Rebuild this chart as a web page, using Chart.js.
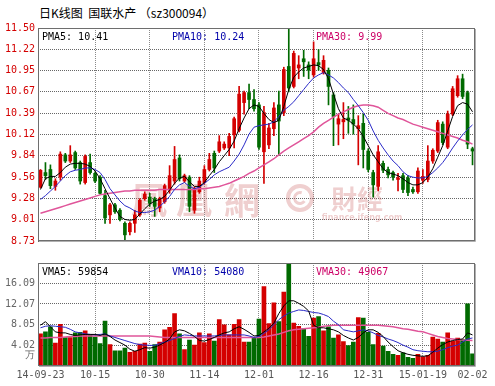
<!DOCTYPE html>
<html>
<head>
<meta charset="utf-8">
<script src="https://cdn.jsdelivr.net/npm/chart.js@4.4.0/dist/chart.umd.min.js"></script>
<style>
  body { margin: 0; background: #fff; width: 495px; height: 386px; position: relative; overflow: hidden; }
  #title { position: absolute; left: 39px; top: 4px; font: 12px "Noto Sans CJK SC", sans-serif; color: #000; white-space: pre; }
  #priceChart { position: absolute; left: 0; top: 0; }
  #volChart { position: absolute; left: 0; top: 250px; }
</style>
</head>
<body>
<div id="title">日K线图  国联水产 （sz300094）</div>
<canvas id="priceChart" width="495" height="250"></canvas>
<canvas id="volChart" width="495" height="136"></canvas>
<script>
// Trading days
const dates = [
    '2014-09-23', '2014-09-24', '2014-09-25', '2014-09-26', '2014-09-29', '2014-09-30', '2014-10-08', '2014-10-09', '2014-10-10', '2014-10-13', '2014-10-14',
    '2014-10-15', '2014-10-16', '2014-10-17', '2014-10-20', '2014-10-21', '2014-10-22', '2014-10-23', '2014-10-24', '2014-10-27', '2014-10-28', '2014-10-29',
    '2014-10-30', '2014-10-31', '2014-11-03', '2014-11-04', '2014-11-05', '2014-11-06', '2014-11-07', '2014-11-10', '2014-11-11', '2014-11-12', '2014-11-13',
    '2014-11-14', '2014-11-17', '2014-11-18', '2014-11-19', '2014-11-20', '2014-11-21', '2014-11-24', '2014-11-25', '2014-11-26', '2014-11-27', '2014-11-28',
    '2014-12-01', '2014-12-02', '2014-12-03', '2014-12-04', '2014-12-05', '2014-12-08', '2014-12-09', '2014-12-10', '2014-12-11', '2014-12-12', '2014-12-15',
    '2014-12-16', '2014-12-17', '2014-12-18', '2014-12-19', '2014-12-22', '2014-12-23', '2014-12-24', '2014-12-25', '2014-12-26', '2014-12-29', '2014-12-30',
    '2014-12-31', '2015-01-05', '2015-01-06', '2015-01-07', '2015-01-08', '2015-01-09', '2015-01-12', '2015-01-13', '2015-01-14', '2015-01-15', '2015-01-16',
    '2015-01-19', '2015-01-20', '2015-01-21', '2015-01-22', '2015-01-23', '2015-01-26', '2015-01-27', '2015-01-28', '2015-01-29', '2015-01-30', '2015-02-02'
];

// Daily prices
const openP = [
    9.43, 9.62, 9.66, 9.44, 9.56, 9.85, 9.77, 9.88, 9.75, 9.49, 9.75,
    9.61, 9.56, 9.32, 9.07, 9.20, 9.13, 8.96, 8.85, 8.96, 9.07, 9.28,
    9.30, 9.28, 9.16, 9.24, 9.39, 9.51, 9.81, 9.51, 9.56, 9.13, 9.37,
    9.49, 9.66, 9.87, 9.90, 9.94, 9.94, 10.11, 10.17, 10.53, 10.66, 10.57,
    10.50, 9.89, 9.98, 10.19, 10.50, 10.40, 11.00, 10.74, 10.98, 11.10, 11.02,
    10.89, 11.05, 10.92, 10.95, 10.63, 10.25, 10.28, 10.33, 10.31, 10.19, 10.26,
    9.90, 9.62, 9.44, 9.74, 9.66, 9.62, 9.53, 9.58, 9.55, 9.40, 9.37,
    9.52, 9.53, 9.77, 9.90, 10.25, 9.95, 10.38, 10.62, 10.84, 10.66, 9.93
];
const highP = [
    9.66, 9.75, 9.72, 9.54, 9.89, 9.87, 9.97, 9.90, 9.77, 9.85, 9.86,
    9.63, 9.58, 9.39, 9.22, 9.22, 9.15, 8.98, 8.98, 9.13, 9.28, 9.37,
    9.35, 9.30, 9.30, 9.47, 9.71, 9.96, 9.85, 9.60, 9.58, 9.43, 9.56,
    9.71, 9.87, 9.90, 10.10, 10.02, 10.13, 10.34, 10.74, 10.68, 10.77, 10.70,
    10.53, 10.48, 10.26, 10.53, 10.68, 10.99, 11.50, 11.20, 11.14, 11.21, 11.06,
    11.32, 11.22, 11.14, 10.98, 10.66, 10.38, 10.53, 10.48, 10.50, 10.36, 10.38,
    9.93, 9.65, 9.97, 9.77, 9.69, 9.64, 9.61, 9.61, 9.58, 9.43, 9.68,
    9.66, 9.97, 9.93, 10.30, 10.28, 10.42, 10.74, 10.88, 10.90, 10.68, 9.95
];
const lowP = [
    9.42, 9.53, 9.41, 9.39, 9.52, 9.75, 9.75, 9.66, 9.47, 9.47, 9.60,
    9.49, 9.34, 8.96, 8.96, 9.09, 8.99, 8.73, 8.81, 8.84, 9.05, 9.26,
    9.18, 9.05, 9.11, 9.22, 9.35, 9.47, 9.51, 9.49, 9.11, 9.09, 9.35,
    9.47, 9.64, 9.62, 9.88, 9.92, 9.84, 9.94, 10.15, 10.38, 10.45, 10.42,
    9.92, 9.48, 9.93, 10.10, 9.84, 10.36, 10.67, 10.72, 10.84, 10.87, 10.84,
    10.86, 10.95, 10.90, 10.50, 9.97, 9.98, 10.06, 10.13, 10.12, 9.72, 9.68,
    9.63, 9.30, 9.38, 9.62, 9.55, 9.52, 9.38, 9.36, 9.32, 9.35, 9.35,
    9.48, 9.50, 9.74, 9.88, 9.98, 9.93, 10.36, 10.60, 10.58, 9.93, 9.72
];
const closeP = [
    9.65, 9.58, 9.45, 9.51, 9.86, 9.77, 9.85, 9.68, 9.51, 9.83, 9.62,
    9.51, 9.35, 9.03, 9.20, 9.11, 9.01, 8.81, 8.96, 9.07, 9.26, 9.34,
    9.22, 9.18, 9.28, 9.45, 9.58, 9.79, 9.54, 9.58, 9.18, 9.41, 9.51,
    9.66, 9.79, 9.68, 10.02, 9.99, 10.09, 10.32, 10.64, 10.66, 10.57, 10.45,
    9.95, 10.40, 10.20, 10.46, 10.29, 10.96, 10.72, 11.17, 11.02, 11.06, 10.95,
    11.10, 11.02, 11.08, 10.74, 10.35, 10.32, 10.31, 10.30, 10.25, 10.23, 9.92,
    9.66, 9.46, 9.89, 9.65, 9.59, 9.56, 9.55, 9.40, 9.36, 9.37, 9.64,
    9.57, 9.77, 9.91, 10.27, 10.01, 10.38, 10.71, 10.84, 10.61, 9.99, 9.90
];

// Volume (万手)
const volume = [
    6.2, 6.6, 7.6, 4.4, 8.1, 5.5, 5.5, 6.4, 6.5, 6.8, 6.0,
    5.6, 4.3, 8.7, 4.1, 2.9, 2.9, 3.4, 2.6, 2.8, 4.2, 4.4,
    2.8, 4.1, 4.6, 7.0, 7.5, 10.2, 6.2, 3.1, 5.0, 4.0, 6.4,
    4.5, 6.2, 4.8, 9.0, 8.0, 6.0, 8.1, 9.0, 4.6, 4.6, 5.5,
    9.1, 15.5, 8.2, 12.3, 8.6, 14.4, 20.2, 8.3, 7.7, 7.2, 5.7,
    9.3, 9.6, 6.8, 7.6, 5.4, 6.0, 4.7, 3.9, 4.6, 9.4, 9.3,
    6.5, 4.1, 6.3, 3.8, 2.8, 2.2, 2.0, 2.5, 1.6, 1.4, 2.2,
    1.7, 2.0, 5.6, 5.2, 4.6, 6.4, 4.8, 5.4, 5.1, 12.1, 2.3
];

// Price moving averages
const pma5 = [
    9.40, 9.54, 9.57, 9.57, 9.62, 9.69, 9.73, 9.74, 9.74, 9.73, 9.70,
    9.64, 9.54, 9.41, 9.28, 9.16, 9.05, 9.01, 9.00, 9.01, 9.08, 9.15,
    9.21, 9.25, 9.27, 9.31, 9.39, 9.48, 9.55, 9.57, 9.50, 9.44, 9.44,
    9.49, 9.58, 9.66, 9.76, 9.84, 9.92, 10.03, 10.19, 10.33, 10.45, 10.50,
    10.48, 10.39, 10.31, 10.27, 10.30, 10.48, 10.70, 10.86, 10.93, 10.98, 11.00,
    11.02, 11.01, 10.96, 10.84, 10.64, 10.45, 10.33, 10.30, 10.25, 10.19, 10.09,
    9.97, 9.85, 9.76, 9.67, 9.62, 9.60, 9.58, 9.54, 9.49, 9.46, 9.46,
    9.49, 9.56, 9.67, 9.82, 9.97, 10.16, 10.35, 10.49, 10.53, 10.51, 10.41
];
const pma10 = [
    9.27, 9.32, 9.38, 9.44, 9.51, 9.58, 9.63, 9.65, 9.66, 9.68, 9.68,
    9.66, 9.62, 9.53, 9.41, 9.33, 9.25, 9.19, 9.16, 9.12, 9.10, 9.10,
    9.11, 9.13, 9.18, 9.24, 9.31, 9.40, 9.46, 9.49, 9.44, 9.41, 9.43,
    9.48, 9.53, 9.59, 9.63, 9.66, 9.69, 9.77, 9.86, 9.98, 10.12, 10.21,
    10.23, 10.24, 10.25, 10.28, 10.35, 10.43, 10.48, 10.54, 10.62, 10.70, 10.78,
    10.85, 10.89, 10.92, 10.89, 10.85, 10.79, 10.72, 10.66, 10.57, 10.49, 10.40,
    10.30, 10.16, 10.04, 9.94, 9.85, 9.77, 9.71, 9.63, 9.58, 9.56, 9.55,
    9.55, 9.57, 9.62, 9.68, 9.75, 9.84, 9.94, 10.03, 10.11, 10.18, 10.24
];
const pma30 = [
    9.09, 9.11, 9.13, 9.15, 9.17, 9.19, 9.21, 9.23, 9.25, 9.27, 9.29,
    9.31, 9.33, 9.34, 9.35, 9.36, 9.37, 9.38, 9.38, 9.39, 9.39, 9.39,
    9.39, 9.39, 9.40, 9.40, 9.40, 9.40, 9.40, 9.40, 9.40, 9.40, 9.41,
    9.41, 9.42, 9.43, 9.44, 9.46, 9.48, 9.51, 9.54, 9.57, 9.61, 9.64,
    9.68, 9.72, 9.76, 9.80, 9.85, 9.90, 9.94, 9.98, 10.02, 10.06, 10.10,
    10.15, 10.21, 10.26, 10.30, 10.34, 10.38, 10.41, 10.44, 10.47, 10.49, 10.50,
    10.50, 10.49, 10.47, 10.43, 10.39, 10.36, 10.33, 10.31, 10.28, 10.25, 10.23,
    10.21, 10.19, 10.17, 10.15, 10.13, 10.11, 10.09, 10.07, 10.04, 10.02, 9.99
];

// Volume moving averages
const vma5 = [
    7.9, 8.6, 7.6, 6.6, 6.4, 6.4, 6.1, 5.9, 6.0, 6.1, 6.1,
    6.1, 5.9, 6.2, 5.7, 5.0, 4.5, 4.0, 3.2, 2.8, 3.1, 3.5,
    3.4, 3.6, 4.0, 4.5, 5.2, 6.6, 7.0, 6.8, 6.3, 5.7, 4.9,
    4.8, 5.1, 5.5, 6.0, 6.4, 6.6, 7.2, 7.6, 7.1, 6.5, 5.8,
    5.9, 6.6, 7.3, 8.3, 10.2, 11.7, 12.7, 12.7, 12.2, 11.6, 10.7,
    7.9, 7.4, 7.4, 7.2, 7.0, 6.6, 5.9, 5.4, 5.0, 5.5, 6.4,
    7.0, 7.0, 6.5, 5.7, 4.6, 3.7, 2.9, 2.5, 2.2, 2.0, 1.9,
    1.8, 1.9, 2.6, 3.4, 4.1, 4.6, 4.9, 5.1, 5.2, 6.4, 6.0
];
const vma10 = [
    7.4, 7.7, 7.8, 7.7, 7.6, 7.5, 7.1, 6.6, 6.4, 6.2, 6.1,
    6.0, 6.1, 6.2, 5.8, 5.5, 5.2, 4.9, 4.6, 4.3, 4.1, 4.0,
    3.95, 3.95, 4.3, 4.6, 4.9, 5.3, 5.7, 6.0, 5.9, 5.8, 5.8,
    5.8, 5.8, 5.8, 5.9, 6.0, 6.0, 6.0, 6.0, 6.0, 5.8, 5.5,
    5.7, 6.3, 7.0, 8.0, 9.0, 9.7, 10.3, 10.6, 10.9, 10.8, 10.6,
    10.4, 10.3, 10.0, 9.6, 8.7, 8.0, 7.0, 6.8, 6.6, 6.8, 7.0,
    6.8, 6.4, 5.9, 5.6, 5.2, 4.9, 4.5, 4.0, 3.6, 3.1, 2.9,
    2.8, 2.7, 2.7, 2.8, 3.1, 3.5, 3.8, 4.0, 4.6, 5.2, 5.4
];
const vma30 = [
    5.4, 5.4, 5.5, 5.5, 5.5, 5.6, 5.7, 5.7, 5.8, 5.8, 5.8,
    5.8, 5.8, 5.8, 5.8, 5.8, 5.8, 5.8, 5.8, 5.8, 5.8, 5.8,
    5.8, 5.7, 5.6, 5.5, 5.5, 5.5, 5.5, 5.5, 5.5, 5.5, 5.5,
    5.5, 5.5, 5.5, 5.5, 5.5, 5.5, 5.5, 5.5, 5.5, 5.5, 5.5,
    5.5, 5.6, 5.8, 6.0, 6.2, 6.5, 6.8, 7.0, 7.1, 7.2, 7.3,
    7.4, 7.5, 7.7, 7.8, 7.9, 7.9, 7.9, 7.9, 7.9, 7.9, 7.9,
    7.9, 7.9, 7.9, 7.8, 7.7, 7.6, 7.4, 7.2, 7.1, 6.9, 6.7,
    6.6, 6.3, 6.0, 5.7, 5.5, 5.3, 5.2, 5.1, 5.0, 4.95, 4.9
];

// Axis ticks and labels
const priceTicks = [8.73, 9.01, 9.28, 9.56, 9.84, 10.12, 10.39, 10.67, 10.95, 11.22, 11.50];
const volTicks = [4.02, 8.05, 12.07, 16.09];
const volUnitTick = 2.01;
const volMax = 20.11;
const xTickIdx = [0, 11, 22, 33, 44, 55, 66, 77, 87];
const xTickLabels = ['14-09-23', '10-15', '10-30', '11-14', '12-01', '12-16', '12-31', '15-01-19', '02-02'];
const priceLegend = ['PMA5: 10.41', 'PMA10: 10.24', 'PMA30: 9.99'];
const volLegend = ['VMA5: 59854', 'VMA10: 54080', 'VMA30: 49067'];

const UP = '#d40000';
const DOWN = '#006a00';
const MA_COLORS = ['#000000', '#2b2bc8', '#e0559a'];
const LEGEND_COLORS = ['#000000', '#0000aa', '#cc0066'];
const MONO = '"DejaVu Sans Mono", monospace';

const candleColors = closeP.map((c, i) => c >= openP[i] ? UP : DOWN);

function xGridColor(ctx) {
    const i = ctx.index;
    return (xTickIdx.includes(i) && i > 0 && i < dates.length - 1) ? '#8a8a8a' : 'rgba(0,0,0,0)';
}

// Frame around plot area
const framePlugin = {
    id: 'frame',
    afterDraw(chart) {
        const { ctx, chartArea: a } = chart;
        const l = Math.round(a.left), t = Math.round(a.top), r = Math.round(a.right), b = Math.round(a.bottom);
        ctx.save();
        ctx.strokeStyle = '#6e6e6e';
        ctx.lineWidth = 1;
        ctx.strokeRect(l + 0.5, t + 0.5, r - l - 1, b - t - 1);
        ctx.strokeStyle = '#b0b0b0';
        ctx.beginPath();
        ctx.moveTo(r + 0.5, t + 1);
        ctx.lineTo(r + 0.5, b + 0.5);
        ctx.lineTo(l + 1, b + 0.5);
        ctx.stroke();
        ctx.restore();
    }
};

// MA value texts inside plot
function legendPlugin(texts) {
    return {
        id: 'maText',
        afterDraw(chart) {
            const { ctx, chartArea: a } = chart;
            const xs = [42, 172, 316];
            ctx.save();
            ctx.font = '10px ' + MONO;
            ctx.textBaseline = 'middle';
            ctx.textAlign = 'left';
            texts.forEach((t, k) => {
                ctx.fillStyle = LEGEND_COLORS[k];
                ctx.fillText(t, xs[k], a.top + 9.5);
            });
            ctx.restore();
        }
    };
}

// ifeng watermark
const watermarkPlugin = {
    id: 'watermark',
    beforeDatasetsDraw(chart) {
        const ctx = chart.ctx;
        ctx.save();
        ctx.fillStyle = 'rgba(205, 105, 105, 0.32)';
        ctx.strokeStyle = 'rgba(205, 105, 105, 0.32)';
        ctx.textAlign = 'center';
        ctx.textBaseline = 'middle';
        ctx.font = 'bold 36px "Noto Sans CJK TC"';
        ctx.fillText('鳳', 149, 200);
        ctx.fillText('凰', 194, 200);
        ctx.fillText('網', 242, 200);
        ctx.lineWidth = 4;
        ctx.beginPath();
        ctx.arc(300, 198, 12, 0, Math.PI * 2);
        ctx.stroke();
        ctx.lineWidth = 3;
        ctx.beginPath();
        ctx.arc(300, 198, 5.5, Math.PI * 0.2, Math.PI * 1.6);
        ctx.stroke();
        ctx.font = 'bold 26px "Noto Sans CJK TC"';
        ctx.fillText('財經', 357, 199);
        ctx.font = 'bold 8px "DejaVu Sans"';
        ctx.fillText('finance.ifeng.com', 362, 218);
        ctx.restore();
    }
};

function maDataset(data, k, width) {
    return {
        type: 'line',
        data: data,
        borderColor: MA_COLORS[k],
        borderWidth: width,
        pointRadius: 0,
        tension: 0,
        order: 0
    };
}

// Price (candlestick) chart
new Chart(document.getElementById('priceChart'), {
    type: 'bar',
    data: {
        labels: dates,
        datasets: [
            maDataset(pma5, 0, 1),
            maDataset(pma10, 1, 1),
            maDataset(pma30, 2, 1.5),
            {
                data: openP.map((o, i) => [o, closeP[i]]),
                backgroundColor: candleColors,
                barThickness: 3,
                minBarLength: 1,
                grouped: false,
                order: 1
            },
            {
                data: lowP.map((l, i) => [l, highP[i]]),
                backgroundColor: candleColors,
                barThickness: 1,
                grouped: false,
                order: 2
            }
        ]
    },
    options: {
        responsive: false,
        animation: false,
        layout: { padding: { top: 28, bottom: 5, left: 0, right: 20 } },
        plugins: { legend: { display: false }, tooltip: { enabled: false } },
        scales: {
            x: {
                offset: true,
                ticks: { display: false, autoSkip: false },
                grid: { offset: false, drawTicks: false, color: xGridColor },
                border: { display: false, dash: [1, 1] },
                afterFit: s => { s.height = 0; }
            },
            y: {
                min: priceTicks[0],
                max: priceTicks[priceTicks.length - 1],
                afterBuildTicks: s => { s.ticks = priceTicks.map(v => ({ value: v })); },
                ticks: {
                    color: '#d40000',
                    font: { family: MONO, size: 10 },
                    padding: 3,
                    callback: v => v.toFixed(2)
                },
                grid: { color: '#666', drawTicks: false },
                border: { display: false, dash: [1, 1] },
                afterFit: s => { s.width = 38; }
            }
        }
    },
    plugins: [watermarkPlugin, framePlugin, legendPlugin(priceLegend)]
});

// Volume chart
new Chart(document.getElementById('volChart'), {
    type: 'bar',
    data: {
        labels: dates,
        datasets: [
            maDataset(vma5, 0, 1),
            maDataset(vma10, 1, 1),
            maDataset(vma30, 2, 1.5),
            {
                data: volume,
                backgroundColor: candleColors,
                barThickness: 4,
                grouped: false,
                order: 1
            }
        ]
    },
    options: {
        responsive: false,
        animation: false,
        layout: { padding: { top: 13, bottom: 0, left: 0, right: 20 } },
        plugins: { legend: { display: false }, tooltip: { enabled: false } },
        scales: {
            x: {
                offset: true,
                ticks: {
                    autoSkip: false,
                    maxRotation: 0,
                    color: '#555',
                    font: { family: MONO, size: 10 },
                    padding: 4,
                    callback: (v, i) => {
                        const k = xTickIdx.indexOf(i);
                        return k >= 0 ? xTickLabels[k] : '';
                    }
                },
                grid: { offset: false, drawTicks: false, color: xGridColor },
                border: { display: false, dash: [1, 1] },
                afterFit: s => { s.height = 20.5; }
            },
            y: {
                min: 0,
                max: volMax,
                afterBuildTicks: s => { s.ticks = [volUnitTick].concat(volTicks).map(v => ({ value: v })); },
                ticks: {
                    color: '#666',
                    font: { family: MONO, size: 10 },
                    padding: 3,
                    callback: v => v === volUnitTick ? '万' : v.toFixed(2)
                },
                grid: {
                    drawTicks: false,
                    color: ctx => (ctx.tick && ctx.tick.value === volUnitTick) ? 'rgba(0,0,0,0)' : '#666'
                },
                border: { display: false, dash: [1, 1] },
                afterFit: s => { s.width = 38; }
            }
        }
    },
    plugins: [framePlugin, legendPlugin(volLegend)]
});
</script>
</body>
</html>
